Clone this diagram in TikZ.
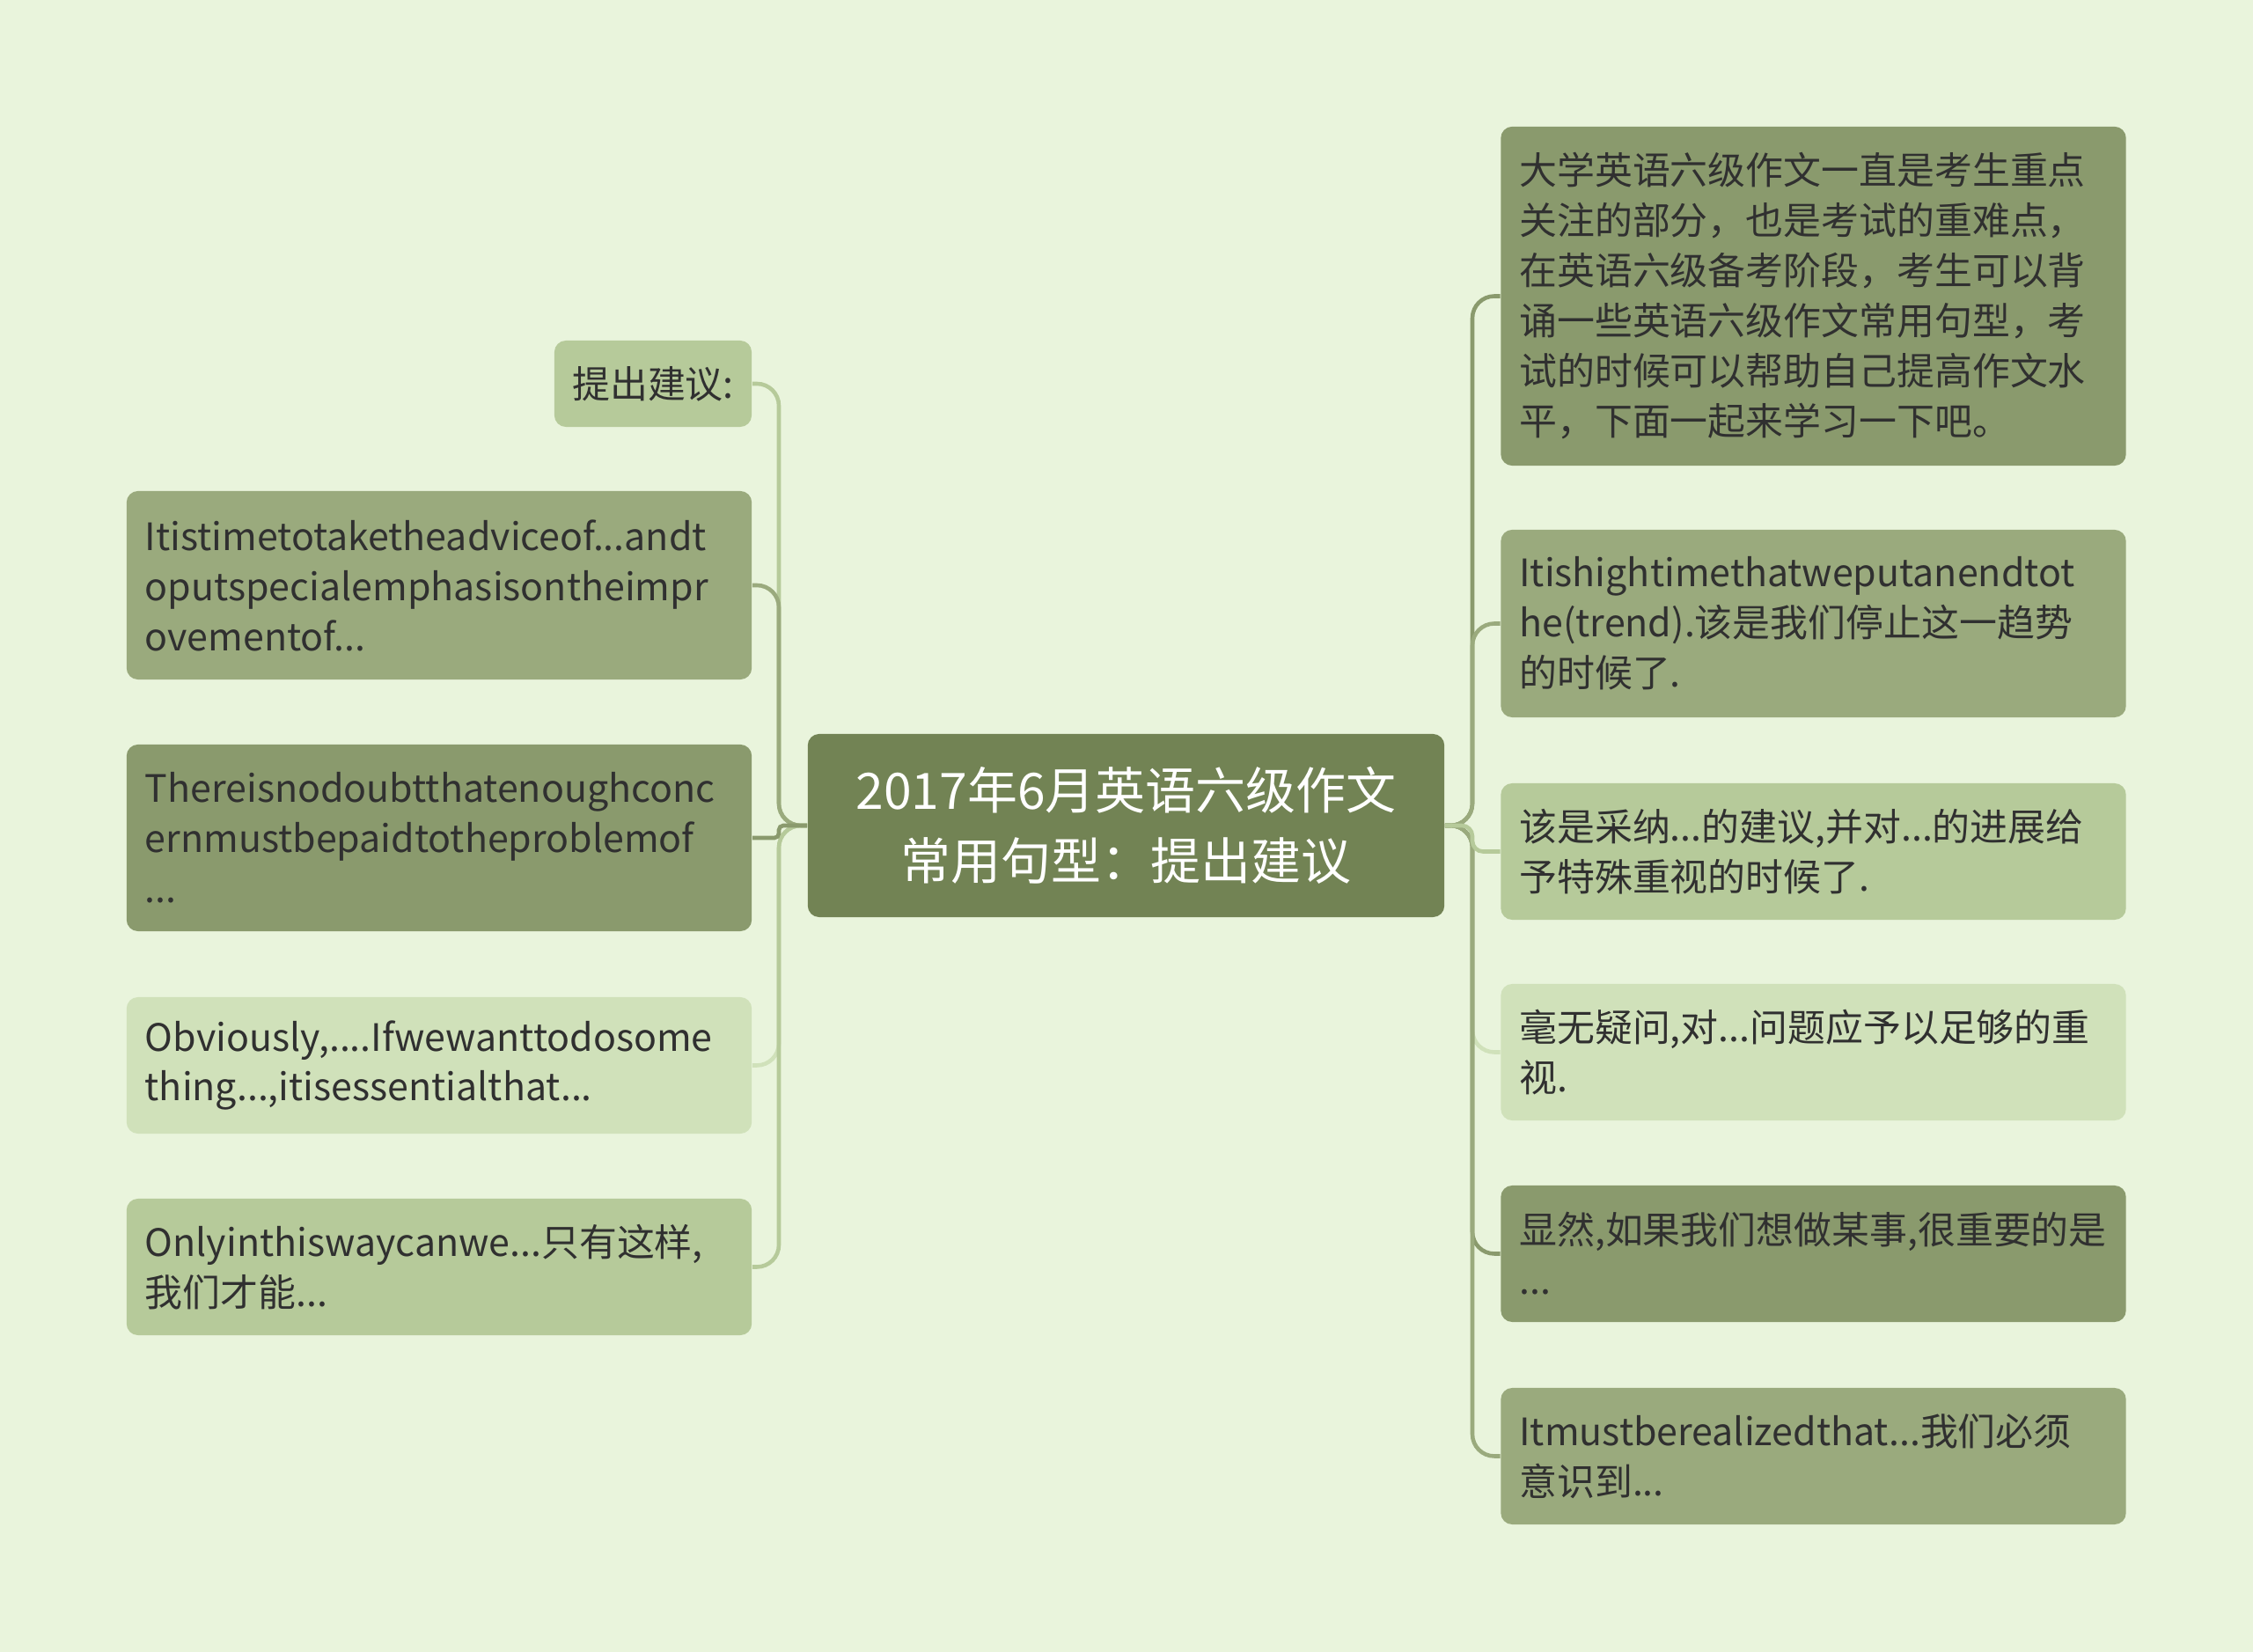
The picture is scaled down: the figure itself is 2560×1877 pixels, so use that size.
\documentclass[tikz,border=0pt]{standalone}
\usepackage{fontspec}
\setmainfont{Noto Sans CJK SC}
\definecolor{bg}{HTML}{E9F4DC}
\definecolor{rootc}{HTML}{728354}
\definecolor{leafa}{HTML}{8A9A6D}
\definecolor{leafb}{HTML}{9AAA7D}
\definecolor{leafc}{HTML}{B6CA9A}
\definecolor{leafd}{HTML}{D0E1BA}
\definecolor{ink}{HTML}{303030}
\tikzset{
  topic/.style={rounded corners=0.13cm, fill=rootc, text=white, align=center,
    minimum width=7.23cm, minimum height=2.08cm, font=\fontsize{16.2pt}{22.8pt}\selectfont},
  leaf/.style={rounded corners=0.13cm, text=ink, align=left, text width=6.68cm,
    inner xsep=0.21cm, font=\fontsize{12.2pt}{16.2pt}\selectfont},
  tag/.style={rounded corners=0.13cm, text=ink, minimum width=2.24cm,
    minimum height=0.98cm, font=\fontsize{12.2pt}{16.2pt}\selectfont},
  link/.style={line width=1.3pt, rounded corners=0.25cm},
}

\begin{document}
\begin{tikzpicture}[x=0.01cm, y=-0.01cm]
  \useasboundingbox[fill=bg] (0,0) rectangle (2560,1877);

  %  Define nodes
  \node[topic] (topic) at (1279.5,938) {2017年6月英语六级作文\\常用句型：提出建议};

  \node[tag, fill=leafc] (suggest) at (742,436) {提出建议:};
  \node[leaf, fill=leafb, minimum height=2.14cm] (advice) at (499,665)
    {Itistimetotaketheadviceof...andt\\oputspecialemphasisontheimpr\\ovementof...};
  \node[leaf, fill=leafa, minimum height=2.12cm] (doubt) at (499,952)
    {Thereisnodoubtthatenoughconc\\ernmustbepaidtotheproblemof\\...};
  \node[leaf, fill=leafd, minimum height=1.55cm] (obvious) at (499,1210.5)
    {Obviously,....Ifwewanttodosome\\thing...,itisessentialthat...};
  \node[leaf, fill=leafc, minimum height=1.55cm] (onlyway) at (499,1439.5)
    {Onlyinthiswaycanwe...只有这样,\\我们才能...};

  \node[leaf, fill=leafa, minimum height=3.85cm] (intro) at (2060.5,336.5)
    {大学英语六级作文一直是考生重点\\关注的部分，也是考试的重难点，\\在英语六级备考阶段，考生可以背\\诵一些英语六级作文常用句型，考\\试的时候可以帮助自己提高作文水\\平，下面一起来学习一下吧。};
  \node[leaf, fill=leafb, minimum height=2.13cm] (hightime) at (2060.5,708.5)
    {Itishightimethatweputanendtot\\he(trend).该是我们停止这一趋势\\的时候了.};
  \node[leaf, fill=leafc, minimum height=1.55cm] (adopt) at (2060.5,967.5)
    {该是采纳...的建议,并对...的进展给\\予特殊重视的时候了.};
  \node[leaf, fill=leafd, minimum height=1.55cm] (nodoubt) at (2060.5,1195.5)
    {毫无疑问,对...问题应予以足够的重\\视.};
  \node[leaf, fill=leafa, minimum height=1.55cm] (obviouszh) at (2060.5,1424.5)
    {显然,如果我们想做某事,很重要的是\\...};
  \node[leaf, fill=leafb, minimum height=1.55cm] (realize) at (2060.5,1654.5)
    {Itmustberealizedthat...我们必须\\意识到...};

  \coordinate (lhub) at (885,938);
  \coordinate (rhub) at (1673,938);

  % Connect the nodes
  \draw[link, leafc] (topic.west) -- (lhub) |- (suggest.east);
  \draw[link, leafb] (topic.west) -- (lhub) |- (advice.east);
  \draw[link, leafd] (topic.west) -- (lhub) |- (obvious.east);
  \draw[link, leafc] (topic.west) -- (lhub) |- (onlyway.east);
  \draw[link, leafa, rounded corners=0.05cm] (topic.west) -- (lhub) |- (doubt.east);

  \draw[link, leafa] (topic.east) -- (rhub) |- (intro.west);
  \draw[link, leafb] (topic.east) -- (rhub) |- (hightime.west);
  \draw[link, leafd] (topic.east) -- (rhub) |- (nodoubt.west);
  \draw[link, leafa] (topic.east) -- (rhub) |- (obviouszh.west);
  \draw[link, leafb] (topic.east) -- (rhub) |- (realize.west);
  \draw[link, leafc, rounded corners=0.12cm] (topic.east) -- (rhub) |- (adopt.west);
\end{tikzpicture}
\end{document}
